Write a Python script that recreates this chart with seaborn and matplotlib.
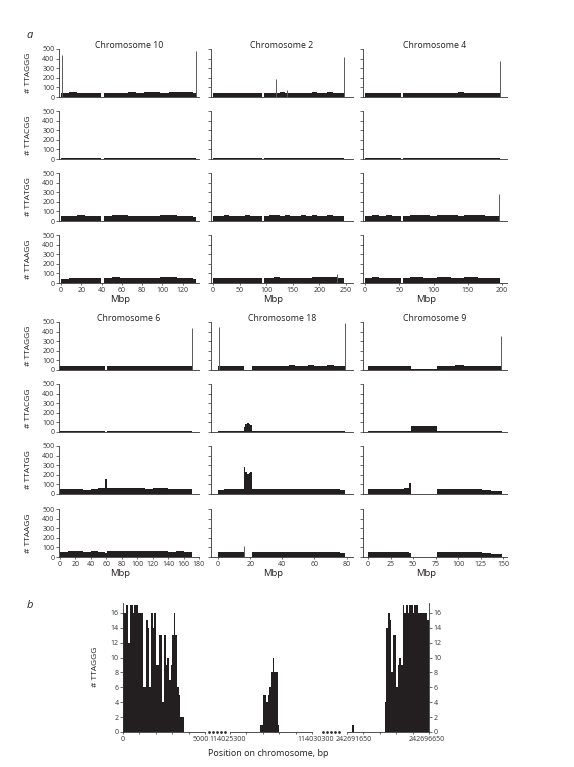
import numpy as np
import matplotlib.pyplot as plt
from matplotlib.lines import Line2D
from matplotlib.transforms import ScaledTranslation
import seaborn as sns

# ---------------- panel a: repeat counts per bin (bins in Mbp) ----------------
chr10_edges = [0, 8, 16, 24, 32, 39, 42, 50, 58, 66, 74, 82, 90, 98, 106, 114, 122, 130, 133.5]
chr10_ttaggg = [44, 47, 45, 46, 43, 0, 44, 46, 45, 47, 46, 48, 47, 46, 48, 50, 47, 44]
chr10_ttacgg = [10, 11, 10, 10, 11, 0, 10, 11, 10, 10, 11, 10, 10, 11, 10, 11, 10, 10]
chr10_ttatgg = [48, 55, 58, 56, 52, 0, 55, 62, 60, 52, 55, 50, 48, 58, 62, 56, 52, 45]
chr10_ttaagg = [45, 52, 55, 55, 50, 0, 55, 60, 56, 52, 55, 52, 55, 58, 60, 55, 50, 42]
chr10_spikes = [(0, 0.5, 440), (0, 133.2, 475)]

chr2_edges = [0, 10, 20, 30, 40, 50, 60, 70, 80, 91, 95, 105, 115, 125, 135, 145,
              155, 165, 175, 185, 195, 205, 215, 225, 235, 247]
chr2_ttaggg = [42, 44, 43, 45, 44, 42, 44, 45, 43, 0, 44, 45, 46, 48, 46, 44, 45, 46, 45,
               47, 46, 45, 47, 46, 44]
chr2_ttacgg = [9, 10, 10, 9, 10, 10, 9, 10, 10, 0, 10, 9, 10, 10, 9, 10, 10, 9, 10, 10,
               9, 10, 10, 9, 10]
chr2_ttatgg = [52, 55, 58, 55, 53, 55, 58, 56, 52, 0, 55, 58, 60, 56, 58, 55, 57, 58, 55,
               58, 56, 55, 58, 56, 52]
chr2_ttaagg = [50, 52, 55, 53, 52, 54, 56, 55, 50, 0, 54, 56, 58, 55, 56, 54, 55, 57, 55,
               58, 60, 62, 60, 58, 52]
chr2_spikes = [(0, 118, 185), (0, 139, 75), (0, 246.5, 420), (3, 232, 95)]

chr4_edges = [0, 10, 20, 30, 40, 52, 55, 65, 75, 85, 95, 105, 115, 125, 135, 145, 155,
              165, 175, 185, 197]
chr4_ttaggg = [42, 44, 43, 45, 44, 0, 43, 45, 44, 46, 45, 44, 46, 45, 47, 45, 44, 46, 45, 44]
chr4_ttacgg = [9, 10, 10, 9, 10, 0, 10, 9, 10, 10, 9, 10, 10, 9, 10, 10, 9, 10, 10, 9]
chr4_ttatgg = [55, 58, 56, 58, 55, 0, 56, 58, 60, 58, 56, 58, 60, 58, 56, 58, 60, 58, 56, 52]
chr4_ttaagg = [55, 58, 56, 57, 55, 0, 56, 58, 58, 57, 56, 58, 59, 57, 56, 58, 59, 57, 55, 50]
chr4_spikes = [(0, 196.5, 370), (2, 196, 285)]

chr6_edges = [0, 10, 20, 30, 40, 50, 58.5, 61.5, 70, 80, 90, 100, 110, 120, 130, 140,
              150, 160, 171]
chr6_ttaggg = [40, 42, 43, 42, 44, 42, 0, 43, 44, 45, 44, 43, 45, 44, 43, 45, 44, 42]
chr6_ttacgg = [10, 11, 10, 10, 11, 10, 0, 10, 11, 10, 10, 11, 10, 10, 11, 10, 12, 10]
chr6_ttatgg = [48, 52, 50, 45, 52, 58, 155, 62, 60, 58, 62, 58, 56, 60, 58, 56, 55, 50]
chr6_ttaagg = [52, 58, 60, 55, 58, 56, 40, 58, 60, 60, 62, 58, 60, 62, 58, 56, 58, 52]
chr6_spikes = [(0, 170.5, 435)]

chr18_edges = [0, 4, 8, 12, 16, 17, 18, 19, 20, 21.2, 24, 28, 32, 36, 40, 44, 48, 52,
               56, 60, 64, 68, 72, 76, 79]
chr18_ttaggg = [42, 45, 44, 43, 0, 0, 0, 0, 0, 40, 44, 46, 45, 44, 46, 47, 45, 46, 48,
                46, 45, 47, 46, 44]
chr18_ttacgg = [10, 10, 9, 10, 55, 85, 95, 88, 72, 10, 9, 10, 10, 9, 10, 10, 9, 10, 10,
                9, 10, 10, 9, 10]
chr18_ttatgg = [45, 48, 50, 52, 280, 230, 205, 220, 225, 52, 50, 48, 50, 52, 50, 48, 50,
                52, 50, 52, 55, 52, 50, 45]
chr18_ttaagg = [48, 50, 52, 50, 0, 0, 0, 0, 0, 50, 52, 50, 52, 50, 48, 50, 52, 55, 52,
                50, 55, 52, 50, 45]
chr18_spikes = [(0, 0.3, 445), (0, 78.8, 490), (3, 16, 110)]

chr9_edges = [0, 10, 20, 30, 40, 46, 48, 76, 86, 96, 106, 116, 126, 136, 148]
chr9_ttaggg = [45, 46, 44, 45, 43, 40, 8, 45, 46, 47, 46, 45, 44, 42]
chr9_ttacgg = [9, 10, 10, 9, 10, 10, 58, 10, 9, 10, 10, 9, 10, 10]
chr9_ttatgg = [52, 55, 54, 56, 58, 115, 5, 55, 56, 54, 52, 50, 45, 35]
chr9_ttaagg = [48, 50, 52, 50, 48, 45, 2, 52, 54, 52, 50, 48, 45, 35]
chr9_spikes = [(0, 147.8, 350)]

repeats = ["# TTAGGG", "# TTACGG", "# TTATGG", "# TTAAGG"]

# ---------------- panel b: TTAGGG counts in 100 bp windows ----------------
b_width = 100
b_tel1_start = 0
b_tel1_counts = [16, 16, 17, 12, 17, 17, 16, 17, 17, 16, 16, 16, 6, 6, 15, 14, 6, 16, 14,
                 16, 9, 9, 13, 13, 4, 13, 9, 10, 7, 9, 13, 16, 13, 6, 5, 2, 2]
b_its_start = 114027100
b_its_counts = [1, 1, 5, 5, 4, 5, 6, 8, 10, 8, 8, 1]
b_lone_start = 242691950
b_lone_counts = [1]
b_tel2_start = 242693950
b_tel2_counts = [4, 14, 16, 15, 8, 13, 13, 6, 9, 10, 9, 17, 16, 17, 16, 17, 17, 16, 17, 17,
                 16, 16, 16, 16, 16, 16, 15]
b_windows = [(0, 5000), (114025300, 114030300), (242691650, 242696650)]

BAR = "#231f20"
SPIKE = "#5a5a5a"

sns.set_theme(style="ticks")
plt.rcParams["font.family"] = ["Open Sans", "DejaVu Sans"]
plt.rcParams.update({
    "axes.linewidth": 0.6, "axes.edgecolor": "#333333",
    "xtick.major.width": 0.5, "ytick.major.width": 0.5,
    "xtick.major.size": 2, "ytick.major.size": 2,
    "xtick.labelsize": 5, "ytick.labelsize": 5,
    "xtick.major.pad": 1.5, "ytick.major.pad": 1.2,
    "xtick.color": "#333333", "ytick.color": "#333333",
})

W, H = 574, 767
fig = plt.figure(figsize=(W / 100, H / 100), dpi=100)


def px_axes(left, top, right, bottom):
    return fig.add_axes([left / W, 1 - bottom / H, (right - left) / W, (bottom - top) / H])


def draw_hist(ax, edges, values):
    edges = [float(e) for e in edges]
    centers = [(a + b) / 2 for a, b in zip(edges[:-1], edges[1:])]
    sns.histplot(x=centers, weights=list(values), bins=edges, element="step", fill=True,
                 color=BAR, alpha=1, linewidth=0, ax=ax)


def shift_label(label, dx_px):
    label.set_transform(label.get_transform()
                        + ScaledTranslation(dx_px / 100, 0, fig.dpi_scale_trans))


chroms = [
    [("Chromosome 10", chr10_edges, [chr10_ttaggg, chr10_ttacgg, chr10_ttatgg, chr10_ttaagg],
      chr10_spikes, (-2, 136), range(0, 121, 20)),
     ("Chromosome 2", chr2_edges, [chr2_ttaggg, chr2_ttacgg, chr2_ttatgg, chr2_ttaagg],
      chr2_spikes, (-4, 263), range(0, 251, 50)),
     ("Chromosome 4", chr4_edges, [chr4_ttaggg, chr4_ttacgg, chr4_ttatgg, chr4_ttaagg],
      chr4_spikes, (-3, 207), range(0, 201, 50))],
    [("Chromosome 6", chr6_edges, [chr6_ttaggg, chr6_ttacgg, chr6_ttatgg, chr6_ttaagg],
      chr6_spikes, (-1, 180), range(0, 181, 20)),
     ("Chromosome 18", chr18_edges, [chr18_ttaggg, chr18_ttacgg, chr18_ttatgg, chr18_ttaagg],
      chr18_spikes, (-4.4, 84), range(0, 81, 20)),
     ("Chromosome 9", chr9_edges, [chr9_ttaggg, chr9_ttacgg, chr9_ttatgg, chr9_ttaagg],
      chr9_spikes, (-5.5, 154), range(0, 151, 25))],
]

col_left = [59, 211, 363]
col_right = [199, 353, 507]
group_zero = [[97, 159, 221, 283], [370, 432, 494, 557]]
row_h = 48

for g, group in enumerate(chroms):
    for c, (title, edges, tracks, spikes, xlim, xticks) in enumerate(group):
        for r in range(4):
            y0 = group_zero[g][r]
            ax = px_axes(col_left[c], y0 - row_h, col_right[c], y0)
            draw_hist(ax, edges, tracks[r])
            for tr, sx, sh in spikes:
                if tr == r:
                    ax.vlines(sx, 0, sh, color=SPIKE, lw=0.7)
            ax.set_xlim(*xlim)
            ax.set_ylim(0, 500)
            ax.set_yticks(range(0, 501, 100))
            sns.despine(ax=ax)
            ax.set_ylabel("")
            if c == 0:
                ax.set_ylabel(repeats[r], fontsize=6, color="#231f20")
                ax.yaxis.set_label_coords(-0.19, 0.5)
            else:
                ax.set_yticklabels([])
            if r == 3:
                ax.set_xticks(list(xticks))
                ax.tick_params(axis="x", length=1.5)
                ax.text(0.44, -16 / row_h, "Mbp", transform=ax.transAxes, ha="center",
                        va="center", fontsize=6.8, color="#231f20")
            else:
                ax.set_xticks([])
            if r == 0:
                ax.text(0.5, 0.97, title, transform=ax.transAxes, ha="center",
                        va="bottom", fontsize=6.3, color="#231f20")

# ---------------- panel b ----------------
b_top, b_zero = 602.5, 732
bx = [px_axes(123, b_top, 205, b_zero), px_axes(230, b_top, 312, b_zero),
      px_axes(347, b_top, 429, b_zero)]
runs = [(0, b_tel1_start, b_tel1_counts), (1, b_its_start, b_its_counts),
        (2, b_lone_start, b_lone_counts), (2, b_tel2_start, b_tel2_counts)]
for i, start, counts in runs:
    edges = [start + b_width * k for k in range(len(counts) + 1)]
    draw_hist(bx[i], edges, counts)

label_shift = [(0, -4), (-2, 4), (7, -2)]
for i, ax in enumerate(bx):
    lo, hi = b_windows[i]
    ax.set_xlim(lo, hi)
    ax.set_ylim(0, 17.4)
    ax.set_ylabel("")
    ticks = [lo + 1000 * k for k in range(6)]
    ax.set_xticks(ticks)
    ax.set_xticklabels([str(ticks[0])] + [""] * 4 + [str(ticks[5])])
    ax.tick_params(axis="x", length=1.5)
    labels = ax.get_xticklabels()
    shift_label(labels[0], label_shift[i][0])
    shift_label(labels[-1], label_shift[i][1])
    for s in ["top", "left", "right"]:
        ax.spines[s].set_visible(False)
    ax.set_yticks([])

bx[0].spines["left"].set_visible(True)
bx[0].set_yticks(range(0, 17, 2))
bx[0].set_ylabel("# TTAGGG", fontsize=6, color="#231f20")
bx[0].yaxis.set_label_coords(-0.29, 0.5)
bx[2].spines["right"].set_visible(True)
bx[2].yaxis.tick_right()
bx[2].set_yticks(range(0, 17, 2))

# broken-axis dots
for x1, x2 in [(209, 225), (323, 339)]:
    xs = np.linspace(x1, x2, 5) / W
    fig.add_artist(Line2D(xs, [1 - b_zero / H] * 5, transform=fig.transFigure, ls="none",
                          marker="o", ms=1.0, color="#333333"))

fig.text(268 / W, 1 - 753 / H, "Position on chromosome, bp", ha="center", va="center",
         fontsize=6.5, color="#231f20")
fig.text(30 / W, 1 - 36 / H, "a", ha="center", va="center", fontsize=8, style="italic")
fig.text(30 / W, 1 - 605 / H, "b", ha="center", va="center", fontsize=8, style="italic")

fig.savefig("out.png", dpi=100)
